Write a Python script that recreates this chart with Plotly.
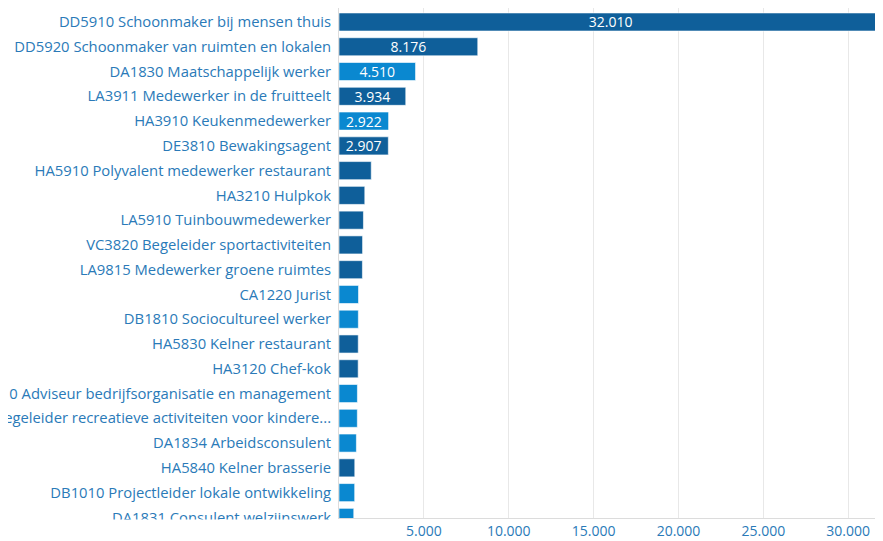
import plotly.graph_objects as go

categories = [
    "DD5910 Schoonmaker bij mensen thuis",
    "DD5920 Schoonmaker van ruimten en lokalen",
    "DA1830 Maatschappelijk werker",
    "LA3911 Medewerker in de fruitteelt",
    "HA3910 Keukenmedewerker",
    "DE3810 Bewakingsagent",
    "HA5910 Polyvalent medewerker restaurant",
    "HA3210 Hulpkok",
    "LA5910 Tuinbouwmedewerker",
    "VC3820 Begeleider sportactiviteiten",
    "LA9815 Medewerker groene ruimtes",
    "CA1220 Jurist",
    "DB1810 Sociocultureel werker",
    "HA5830 Kelner restaurant",
    "HA3120 Chef-kok",
    "CA1410 Adviseur bedrijfsorganisatie en management",
    "VC3810 Begeleider recreatieve activiteiten voor kindere...",
    "DA1834 Arbeidsconsulent",
    "HA5840 Kelner brasserie",
    "DB1010 Projectleider lokale ontwikkeling",
    "DA1831 Consulent welzijnswerk",
]
values = [32010, 8176, 4510, 3934, 2922, 2907, 1900, 1520, 1440, 1390, 1380,
          1150, 1140, 1135, 1130, 1085, 1080, 1025, 930, 925, 870]
group = ["A", "A", "B", "A", "B", "A", "A", "A", "A", "A", "A",
         "B", "B", "A", "A", "B", "B", "B", "A", "B", "B"]
x_ticks = [5000, 10000, 15000, 20000, 25000, 30000]

color_map = {"A": "#0f5f9a", "B": "#0a88d0"}
colors = [color_map[g] for g in group]


def fmt(v):
    return f"{v:,}".replace(",", ".")


texts = [fmt(v) if v >= 2500 else "" for v in values]

fig = go.Figure(go.Bar(
    x=values,
    y=categories,
    orientation="h",
    marker=dict(color=colors, line=dict(color="rgba(255,255,255,0.6)", width=1)),
    width=0.73,
    text=texts,
    textposition="inside",
    insidetextanchor="middle",
    constraintext="none",
    textfont=dict(color="white", size=14, family="Open Sans"),
    hoverinfo="x+y",
))

fig.update_layout(
    width=875,
    height=533,
    margin=dict(l=331, r=0, t=0, b=23, autoexpand=False),
    paper_bgcolor="white",
    plot_bgcolor="white",
    separators=",.",
    showlegend=False,
    font=dict(family="Open Sans", size=14.8, color="#2a7ab8"),
    # the list is scrolled: hide the lower half of the last, partly visible label
    shapes=[dict(type="rect", xref="paper", yref="paper",
                 x0=-0.7, x1=-0.004, y0=-0.2, y1=-0.003,
                 fillcolor="white", line=dict(width=0), layer="above")],
)

fig.update_xaxes(
    range=[0, 32050],
    tickvals=x_ticks,
    ticktext=[fmt(v) for v in x_ticks],
    showgrid=True,
    gridcolor="#e8e8e8",
    gridwidth=1,
    zeroline=False,
    showline=True,
    linecolor="#dcdcdc",
    linewidth=1,
    ticks="",
    automargin=False,
    ticklabelstandoff=0,
    tickfont=dict(size=14, color="#2a7ab8"),
)

fig.update_yaxes(
    type="category",
    categoryorder="array",
    categoryarray=categories,
    range=[20.025, -0.565],
    autorange=False,
    showgrid=False,
    zeroline=False,
    showline=True,
    linecolor="#dcdcdc",
    linewidth=1,
    ticks="",
    automargin=False,
    ticklabelstandoff=4,
    tickfont=dict(size=14.8, color="#2a7ab8"),
)

fig.write_html("out.html")
